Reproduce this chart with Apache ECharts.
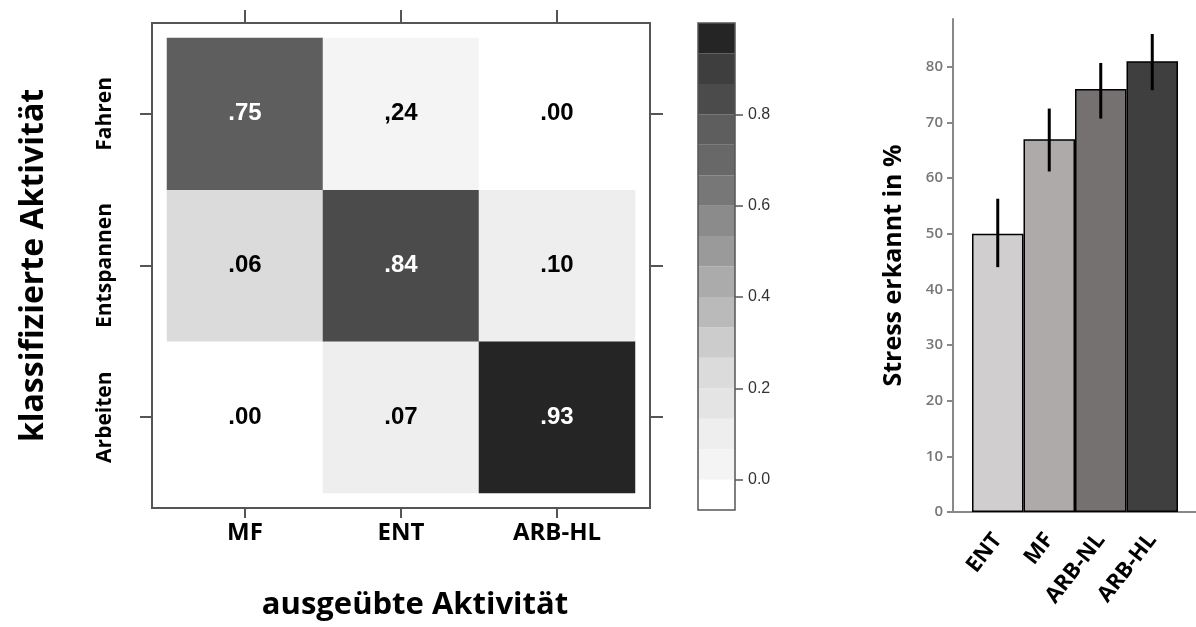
<!DOCTYPE html>
<html>
<head>
<meta charset="utf-8">
<title>Aktivität und Stress</title>
<script src="https://cdn.jsdelivr.net/npm/echarts@6/dist/echarts.min.js"></script>
<style>
  html, body { margin: 0; padding: 0; background: #fff; }
  #chart { width: 1196px; height: 627px; }
</style>
</head>
<body>
<div id="chart"></div>
<script>
  // Konfusionsmatrix
  var doneActs = ['MF', 'ENT', 'ARB-HL'];
  var classActs = ['Arbeiten', 'Entspannen', 'Fahren']; // von unten nach oben
  // gedruckte Zahlen, Zeilen von unten nach oben
  var cellText = [
    ['.00', '.07', '.93'],
    ['.06', '.84', '.10'],
    ['.75', ',24', '.00']
  ];
  var cellShade = [
    [0.00, 0.07, 0.95],
    [0.24, 0.84, 0.10],
    [0.75, 0.06, 0.00]
  ];
  // Farbskala: 16 Stufen zu je 1/15, von -1/15 bis 1
  var levelColors = ['#ffffff', '#f4f4f4', '#eeeeee', '#e4e4e4', '#dbdbdb', '#cccccc', '#bababa', '#ababab',
    '#9a9a9a', '#8b8b8b', '#777777', '#686868', '#5e5e5e', '#4b4b4b', '#3e3e3e', '#252525'];

  // Balkendiagramm
  var stressCats = ['ENT', 'MF', 'ARB-NL', 'ARB-HL'];
  var stressMean = [50, 67, 76, 81];
  var stressLow = [44, 61.2, 70.7, 75.8];
  var stressHigh = [56.3, 72.5, 80.7, 85.9];
  var stressColors = ['#d0cecf', '#aeaaaa', '#757171', '#3f3f3f'];

  var myChart = echarts.init(document.getElementById('chart'));

  var heatData = [];
  for (var r = 0; r < classActs.length; r++) {
    for (var c = 0; c < doneActs.length; c++) {
      heatData.push({
        value: [c, r, cellShade[r][c]],
        label: { color: cellShade[r][c] > 0.5 ? '#ffffff' : '#000000' }
      });
    }
  }

  var pieces = levelColors.map(function (col, i) {
    return { gt: (i - 1) / 15 - 1e-9, lte: i / 15 + 1e-9, color: col };
  });
  pieces[0].gt = -1;

  var levelData = levelColors.map(function (col, i) {
    return [(i - 1) / 15, i / 15];
  });

  var errData = stressCats.map(function (name, i) {
    return [i, stressLow[i], stressHigh[i]];
  });

  // Farbskala: Kasten 698..735 x 23..510, Wert 0 liegt eine Stufe über dem unteren Rand
  var scaleTop = 23, scaleH = 487;
  var unitPx = scaleH / (16 / 15);
  var zeroY = scaleTop + scaleH - unitPx / 15;
  var scaleMax = 0.99; // Achse nur bis knapp unter 1, damit dort kein Strich steht

  // unsichtbare Achsenlinie, damit die Striche trotzdem gezeichnet werden
  var hiddenLine = { show: true, onZero: false, lineStyle: { color: 'rgba(0,0,0,0)' } };
  var frameTick = function (len) {
    return { show: true, inside: false, alignWithLabel: true, length: len, lineStyle: { color: '#555', width: 2 } };
  };

  var option = {
    animation: false,
    textStyle: { fontFamily: 'Open Sans' },
    grid: [
      // Rahmen der Matrix
      { left: 152, top: 23, width: 498, height: 485, show: true, borderColor: '#555', borderWidth: 2, backgroundColor: 'transparent' },
      // Zellen
      { left: 167, top: 38, width: 468, height: 455 },
      // Balken
      { left: 972, right: 18, top: 19, bottom: 115 },
      // x-Achsenlinie der Balken
      { left: 953, right: 0, top: 19, bottom: 115 },
      // Farbskala
      { left: 698, top: scaleTop, width: 37, height: scaleH, show: true, borderColor: '#555', borderWidth: 1.5, backgroundColor: 'transparent' },
      // Achse der Farbskala (0 .. 0.99)
      { left: 698, top: zeroY - scaleMax * unitPx, width: 37, height: scaleMax * unitPx }
    ],
    visualMap: {
      type: 'piecewise',
      show: false,
      seriesIndex: 0,
      dimension: 2,
      pieces: pieces
    },
    xAxis: [
      { gridIndex: 0, type: 'value', show: false },
      {
        gridIndex: 1, type: 'category', data: doneActs, position: 'bottom', offset: 15,
        axisLine: hiddenLine,
        axisTick: frameTick(10),
        axisLabel: { interval: 0, margin: 13, fontSize: 24, fontWeight: 'bold', color: '#000' },
        name: 'ausgeübte Aktivität', nameLocation: 'middle', nameGap: 82,
        nameTextStyle: { padding: [0, 0, 0, 28], fontFamily: 'Open Sans', fontWeight: 'bold', fontSize: 31, color: '#000' }
      },
      {
        gridIndex: 1, type: 'category', data: doneActs, position: 'top', offset: 15,
        axisLine: hiddenLine,
        axisTick: frameTick(13),
        axisLabel: { show: false }
      },
      {
        gridIndex: 2, type: 'category', data: stressCats,
        axisLine: { show: false }, axisTick: { show: false },
        axisLabel: { interval: 0, rotate: 52, margin: 24, fontSize: 22, fontWeight: 'bold', color: '#000' }
      },
      {
        gridIndex: 3, type: 'value', min: 0, max: 1,
        axisLine: { show: true, lineStyle: { color: '#888', width: 2 } },
        axisTick: { show: false }, axisLabel: { show: false }, splitLine: { show: false }
      },
      { gridIndex: 4, type: 'value', min: 0, max: 1, show: false },
      { gridIndex: 5, type: 'value', min: 0, max: 1, show: false }
    ],
    yAxis: [
      { gridIndex: 0, type: 'value', show: false },
      {
        gridIndex: 1, type: 'category', data: classActs, position: 'left', offset: 15,
        axisLine: hiddenLine,
        axisTick: frameTick(12),
        axisLabel: { interval: 0, rotate: 90, margin: 36, fontSize: 21, fontWeight: 'bold', color: '#000' },
        name: 'klassifizierte Aktivität', nameLocation: 'middle', nameRotate: 90, nameGap: 102,
        nameTextStyle: { fontFamily: 'Open Sans', fontWeight: 'bold', fontSize: 32, color: '#000' }
      },
      {
        gridIndex: 1, type: 'category', data: classActs, position: 'right', offset: 15,
        axisLine: hiddenLine,
        axisTick: frameTick(13),
        axisLabel: { show: false }
      },
      {
        gridIndex: 2, type: 'value', min: 0, max: 88.6, interval: 10, offset: 19,
        axisLine: { show: true, lineStyle: { color: '#888', width: 2 } },
        axisTick: { show: true, length: 6, lineStyle: { color: '#888', width: 2 } },
        axisLabel: { showMaxLabel: false, margin: 10, fontSize: 15, fontWeight: 600, color: '#777' },
        splitLine: { show: false },
        name: 'Stress erkannt in %', nameLocation: 'middle', nameRotate: 90, nameGap: 47,
        nameTextStyle: { fontFamily: 'Open Sans', fontWeight: 'bold', fontSize: 25, color: '#000' }
      },
      { gridIndex: 3, type: 'value', min: 0, max: 1, show: false },
      { gridIndex: 4, type: 'value', min: -1 / 15, max: 1, show: false },
      {
        gridIndex: 5, type: 'value', min: 0, max: scaleMax, interval: 0.2, position: 'right',
        axisLine: hiddenLine,
        axisTick: { show: true, inside: false, length: 8, lineStyle: { color: '#555', width: 1.5 } },
        axisLabel: {
          showMaxLabel: false, margin: 13, fontSize: 16, color: '#333', fontFamily: 'Liberation Sans',
          formatter: function (v) { return v.toFixed(1); }
        },
        splitLine: { show: false }
      }
    ],
    series: [
      {
        type: 'heatmap',
        xAxisIndex: 1,
        yAxisIndex: 1,
        data: heatData,
        label: {
          show: true,
          fontFamily: 'Liberation Sans',
          fontWeight: 'bold',
          fontSize: 24,
          formatter: function (p) { return cellText[p.value[1]][p.value[0]]; }
        }
      },
      {
        type: 'custom',
        xAxisIndex: 5,
        yAxisIndex: 5,
        z: -1,
        data: levelData,
        renderItem: function (params, api) {
          var p0 = api.coord([0, api.value(1)]);
          var p1 = api.coord([1, api.value(0)]);
          return {
            type: 'rect',
            shape: { x: p0[0], y: p0[1], width: p1[0] - p0[0], height: p1[1] - p0[1] },
            style: { fill: levelColors[params.dataIndex] }
          };
        }
      },
      {
        type: 'bar',
        xAxisIndex: 3,
        yAxisIndex: 3,
        barCategoryGap: '0%',
        data: stressMean,
        itemStyle: {
          color: function (p) { return stressColors[p.dataIndex]; },
          borderColor: '#000',
          borderWidth: 1.5
        }
      },
      {
        type: 'custom',
        xAxisIndex: 3,
        yAxisIndex: 3,
        z: 5,
        data: errData,
        renderItem: function (params, api) {
          var lo = api.coord([api.value(0), api.value(1)]);
          var hi = api.coord([api.value(0), api.value(2)]);
          return {
            type: 'line',
            shape: { x1: lo[0], y1: lo[1], x2: hi[0], y2: hi[1] },
            style: { stroke: '#000', lineWidth: 3 }
          };
        }
      }
    ]
  };

  myChart.setOption(option);
  window.addEventListener('resize', myChart.resize);
</script>
</body>
</html>
